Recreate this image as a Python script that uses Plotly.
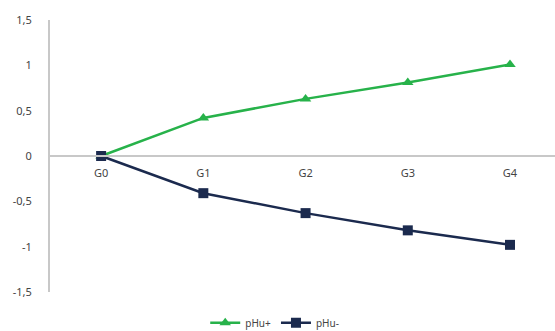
import plotly.graph_objects as go

groups = ["G0", "G1", "G2", "G3", "G4"]
phu_plus = [0.0, 0.42, 0.63, 0.81, 1.01]
phu_minus = [0.0, -0.41, -0.63, -0.82, -0.98]
y_tick_vals = [1.5, 1, 0.5, 0, -0.5, -1, -1.5]
y_tick_text = ["1,5", "1", "0,5", "0", "-0,5", "-1", "-1,5"]

green = "#27b24a"
navy = "#1b2a4e"
axis_grey = "#c8c8c8"
text_grey = "#444444"

fig = go.Figure()
fig.add_trace(go.Scatter(
    x=groups, y=phu_plus, name="pHu+", mode="lines+markers",
    line=dict(color=green, width=2.5),
    marker=dict(symbol="triangle-up", size=10, color=green),
))
fig.add_trace(go.Scatter(
    x=groups, y=phu_minus, name="pHu-", mode="lines+markers",
    line=dict(color=navy, width=2.5),
    marker=dict(symbol="square", size=10, color=navy),
))

fig.update_layout(
    width=555, height=331,
    margin=dict(l=50, r=0, t=20, b=39),
    paper_bgcolor="white", plot_bgcolor="white",
    font=dict(family="Noto Sans", size=11, color=text_grey),
    showlegend=True,
    legend=dict(
        orientation="h", xref="container", yref="container",
        x=0.495, xanchor="center", y=0.025, yanchor="middle",
        font=dict(size=10, color=text_grey), itemwidth=30,
        tracegroupgap=0,
    ),
    xaxis=dict(
        type="category", range=[-0.5, 4.44],
        anchor="free", position=0.5,
        showline=True, linecolor=axis_grey, linewidth=2,
        showgrid=False, zeroline=False, ticks="",
        ticklabelstandoff=7, automargin=False,
        tickfont=dict(size=11, color=text_grey),
    ),
    yaxis=dict(
        range=[-1.5, 1.5],
        tickvals=y_tick_vals, ticktext=y_tick_text,
        showline=True, linecolor=axis_grey, linewidth=2,
        showgrid=False, zeroline=False, ticks="",
        ticklabelstandoff=14, automargin=False,
        tickfont=dict(size=11, color=text_grey),
    ),
)

fig.write_html("out.html")
